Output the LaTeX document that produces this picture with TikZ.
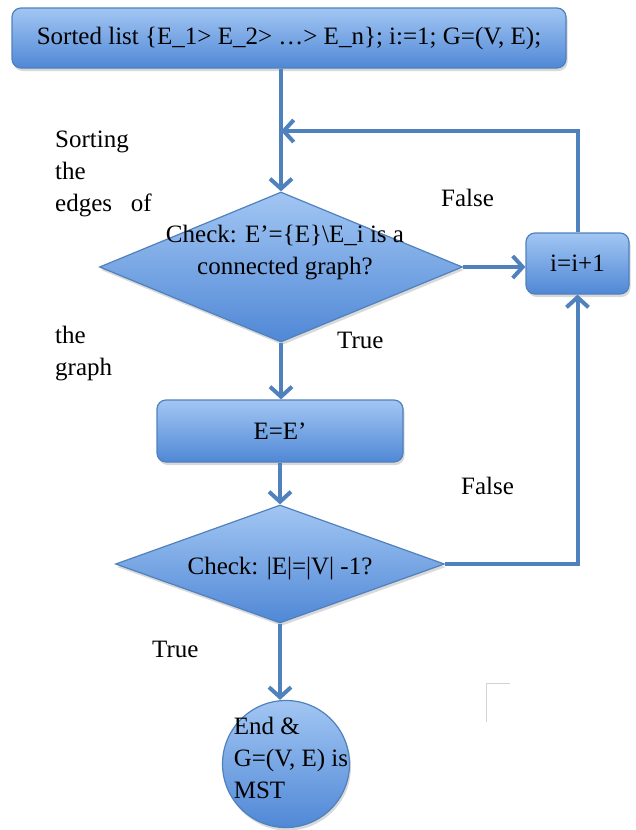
\documentclass[tikz,border=0pt]{standalone}
\usepackage{fontspec}
\setmainfont{Liberation Serif}
\usetikzlibrary{shapes.geometric,arrows.meta,shadows}
\definecolor{flowline}{RGB}{79,129,189}
\definecolor{shadetop}{RGB}{162,198,243}
\definecolor{shadebot}{RGB}{80,136,214}
\tikzset{flow/.style={draw=flowline, line width=4pt, -{Straight Barb[length=10pt,width=22pt]}}}
\tikzset{block/.style={draw=flowline, line width=1.2pt, top color=shadetop, bottom color=shadebot, drop shadow={opacity=0.3, shadow xshift=1.5pt, shadow yshift=-3pt}}}
\tikzset{stepbox/.style={block, rounded corners=9pt, inner sep=0pt}}
\tikzset{test/.style={block, diamond, inner sep=0pt}}
\tikzset{stop/.style={block, circle, inner sep=0pt, minimum size=127pt}}
\tikzset{note/.style={inner sep=0pt, align=left, anchor=north west}}

\begin{document}
\begin{tikzpicture}[x=1pt, y=-1pt, font=\fontsize{25}{32}\selectfont]
\useasboundingbox (0,0) rectangle (635,830);
\node[stepbox, minimum width=554pt, minimum height=60pt] (list) at (289,38) {Sorted list \{E\_1> E\_2> …> E\_n\}; i:=1; G=(V, E);};
\node[test, minimum width=363pt, minimum height=150pt] (chk1) at (281,267) {};
\node[inner sep=0pt, align=center] (chk1txt) at (285,253) {Check: E’=\{E\}\textbackslash E\_i is a\\connected graph?};
\node[stepbox, minimum width=103pt, minimum height=61pt] (inc) at (577.5,263.5) {i=i+1};
\node[stepbox, minimum width=246pt, minimum height=62pt] (set) at (280,431) {E=E’};
\node[test, minimum width=329pt, minimum height=118pt] (chk2) at (280,564) {};
\node[inner sep=0pt] (chk2txt) at (280,569) {Check: |E|=|V| -1?};
\node[stop] (stop) at (286,764) {};
\node[inner sep=0pt, align=left] (stoptxt) at (291,758) {End \&\\G=(V, E) is\\MST};
\coordinate (back) at (chk1.north |- 0,131);

\draw[flow] (list.south -| chk1.north) -- (chk1.north);
\draw[flow] (inc.north) |- (back);
\draw[flow] (chk1.east) -- (chk1.east -| inc.west);
\draw[flow] (chk1.south) -- (chk1.south |- set.north);
\draw[flow] (set.south -| chk2.north) -- (chk2.north);
\draw[flow] (chk2.east) -| (inc.south);
\draw[flow] (chk2.south) -- (chk2.south |- stop.north);

\node[note] (sort) at (55,131) {Sorting\\the\\edges~~~of};
\node[note] (graph) at (55,326) {the\\graph};
\node[note] (false1) at (441,189) {False};
\node[note] (true1) at (337,332) {True};
\node[note] (false2) at (461,477) {False};
\node[note] (true2) at (152,641) {True};
\draw[gray!35, line width=1pt] (486,722) -- (486,683) -- (510,683);
\end{tikzpicture}
\end{document}
